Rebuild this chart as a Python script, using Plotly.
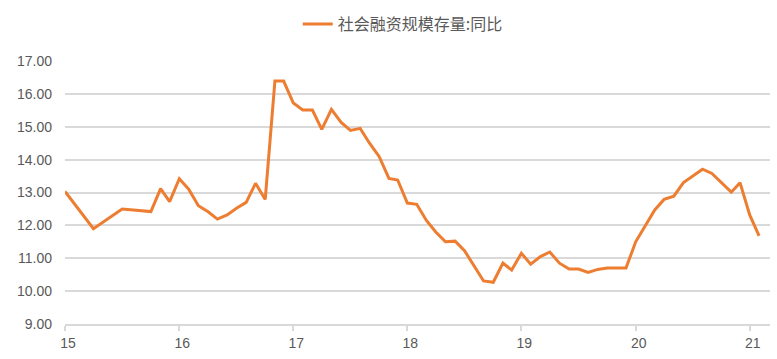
import pandas as pd
import plotly.graph_objects as go

# Month labels (YYYY-MM) and year-on-year growth values (%)
months = (
    ["2015-03", "2015-06", "2015-09", "2015-12"]
    + [f"2016-{m:02d}" for m in range(1, 13)]
    + [f"2017-{m:02d}" for m in range(1, 13)]
    + [f"2018-{m:02d}" for m in range(1, 13)]
    + [f"2019-{m:02d}" for m in range(1, 13)]
    + [f"2020-{m:02d}" for m in range(1, 13)]
    + [f"2021-{m:02d}" for m in range(1, 5)]
)

values_2015 = [13.03, 11.90, 12.50, 12.42]
values_2016 = [13.12, 12.72, 13.42, 13.10, 12.60, 12.42, 12.19, 12.32, 12.52, 12.70, 13.28, 12.79]
values_2017 = [16.39, 16.39, 15.72, 15.51, 15.51, 14.92, 15.53, 15.13, 14.89, 14.95, 14.50, 14.09]
values_2018 = [13.43, 13.38, 12.68, 12.64, 12.15, 11.80, 11.50, 11.52, 11.23, 10.75, 10.31, 10.27]
values_2019 = [10.85, 10.64, 11.15, 10.82, 11.05, 11.19, 10.85, 10.67, 10.67, 10.57, 10.66, 10.70]
values_2020 = [10.70, 10.70, 11.50, 11.98, 12.47, 12.79, 12.89, 13.30, 13.50, 13.71, 13.58, 13.30]
values_2021 = [13.01, 13.30, 12.32, 11.68]

values = values_2015 + values_2016 + values_2017 + values_2018 + values_2019 + values_2020 + values_2021

series_name = "社会融资规模存量:同比"
tick_labels = ["15", "16", "17", "18", "19", "20", "21"]

dates = pd.to_datetime(months, format="%Y-%m") + pd.offsets.MonthEnd(0)
tick_dates = [d for d in dates if d.month == 3]

TXT = "#595959"
GRID = "#d9d9d9"

fig = go.Figure()
fig.add_trace(go.Scatter(
    x=dates, y=values, mode="lines", name=series_name,
    line=dict(color="#ED7D31", width=3),
))

fig.update_layout(
    width=777, height=359,
    margin=dict(l=65, r=7, t=61, b=35),
    paper_bgcolor="white", plot_bgcolor="white",
    showlegend=True,
    legend=dict(
        orientation="h", x=0.628, xanchor="right", y=0.98, yref="container", yanchor="top",
        font=dict(family="Noto Sans CJK SC", size=16, color=TXT),
        bgcolor="rgba(0,0,0,0)",
    ),
    font=dict(family="Liberation Sans, Arial, sans-serif", size=14, color=TXT),
)

fig.update_xaxes(
    type="date",
    range=[dates[0], dates[-1] + pd.Timedelta(days=35)],
    tickvals=tick_dates, ticktext=tick_labels,
    showgrid=False, zeroline=False,
    showline=True, linecolor=GRID, linewidth=2,
    ticks="outside", ticklen=5, tickcolor=GRID, tickwidth=1.5,
    ticklabelshift=3,
    tickfont=dict(size=14, color=TXT),
)
fig.update_yaxes(
    range=[9, 17], dtick=1, tick0=9, tickformat=".2f",
    showgrid=True, gridcolor=GRID, gridwidth=2,
    zeroline=False, showline=False,
    ticklabelstandoff=12,
    tickfont=dict(size=14, color=TXT),
)

fig.write_html(
    "out.html",
    config={"displayModeBar": False},
    post_script="document.body.style.margin='0';",
)
